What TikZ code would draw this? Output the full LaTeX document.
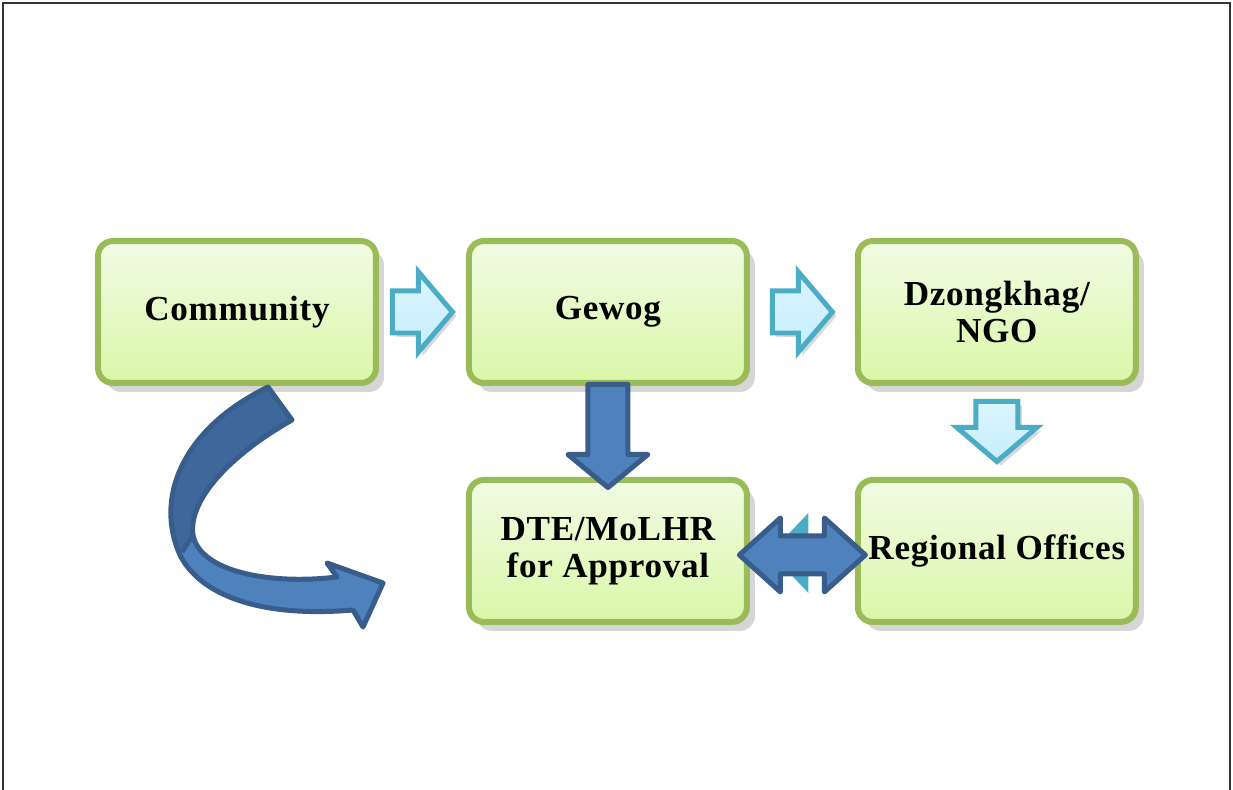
\documentclass[tikz,border=0pt]{standalone}
\usepackage{fontspec}
\setmainfont{Liberation Serif}
\newfontfamily\boxfont[LetterSpace=2]{Liberation Serif}
\usetikzlibrary{positioning, calc, shadows}

\definecolor{boxline}{RGB}{155,187,89}
\definecolor{boxtop}{RGB}{241,251,228}
\definecolor{boxbot}{RGB}{218,247,168}
\definecolor{lightline}{RGB}{75,172,198}
\definecolor{lightfill}{RGB}{196,238,254}
\definecolor{darkline}{RGB}{56,93,138}
\definecolor{darkfill}{RGB}{79,129,189}
\definecolor{darkback}{RGB}{62,104,156}

\tikzset{
  pics/lightarr/.style={code={
    \draw[lightarrow] (-30,-21) -- (-4,-21) -- (-4,-40) -- (30,0) -- (-4,40) -- (-4,21) -- (-30,21) -- cycle;
  }}
}

\begin{document}
\begin{tikzpicture}[
  x=0.02cm, y=-0.02cm,
  stage/.style={draw=boxline, line width=0.12cm, rounded corners=0.3cm, top color=boxtop, bottom color=boxbot,
    minimum width=5.56cm, minimum height=2.84cm, align=center, font=\boxfont\fontsize{20}{21}\selectfont\bfseries,
    drop shadow={shadow xshift=0.16cm, shadow yshift=-0.18cm, fill=black!16, opacity=1}},
  lightarrow/.style={draw=lightline, line width=0.1cm, top color=lightfill!60!white, bottom color=lightfill,
    drop shadow={shadow xshift=0.08cm, shadow yshift=-0.08cm, fill=black!15, opacity=1}},
  darkarrow/.style={draw=darkline, line width=0.1cm, fill=darkfill, line join=round}
]
\useasboundingbox (0,0) rectangle (1233,790);
\draw[line width=0.035cm, black!80] (3,790) -- (3,3) -- (1230,3) -- (1230,790);

% boxes
\node[stage] (comm) at (237,312) {Community};
\node[stage, right=1.74cm of comm] (gewog) {Gewog};
\node[stage, right=2.1cm of gewog] (dzong) {Dzongkhag/\\NGO};
\node[stage, below=1.82cm of gewog] (dte) {DTE/MoLHR\\for Approval};
\node[stage, below=1.82cm of dzong] (reg) {Regional Offices};

% light arrows
\coordinate (c2g) at ($(comm.east)!0.5!(gewog.west)$);
\coordinate (g2z) at ($(gewog.east)!0.5!(dzong.west)$);
\coordinate (z2r) at ($(dzong.south)!0.5!(reg.north)$);
\pic at (c2g) {lightarr};
\pic at (g2z) {lightarr};
\pic[rotate=-90] at (z2r) {lightarr};

% gewog to dte
\coordinate (g2d) at ($(gewog.south)!0.5!(dte.north)$);
\begin{scope}[shift={(g2d)}]
  \draw[darkarrow] (-20,-47) -- (20,-47) -- (20,23) -- (40,23) -- (0,56) -- (-40,23) -- (-20,23) -- cycle;
\end{scope}

% dte and regional offices
\coordinate (d2r) at ($(dte.east)!0.5!(reg.west)$);
\begin{scope}[shift={(d2r)}]
  \fill[lightline] (6,-38) -- (-32,2) -- (6,42) -- cycle;
  \draw[darkarrow] (-63,4) -- (-22,-33) -- (-22,-15) -- (22,-15) -- (22,-33) -- (63,4) -- (22,41) -- (22,23) -- (-22,23) -- (-22,41) -- cycle;
\end{scope}

% curved arrow from community
\fill[darkfill] (268,387) -- (292,420) .. controls (230,455) and (188,500) .. (193,535)
  .. controls (200,572) and (270,585) .. (337,577) -- (327,563) -- (383,583) -- (363,627) -- (353,610)
  .. controls (260,618) and (200,595) .. (180,555) .. controls (155,500) and (180,430) .. (268,387) -- cycle;
\fill[darkback] (268,387) -- (292,420) .. controls (230,455) and (188,500) .. (193,535) -- (182,552)
  .. controls (156,500) and (180,430) .. (268,387) -- cycle;
\draw[darkline, line width=0.1cm, line join=round] (268,387) -- (292,420) .. controls (230,455) and (188,500) .. (193,535)
  .. controls (200,572) and (270,585) .. (337,577) -- (327,563) -- (383,583) -- (363,627) -- (353,610)
  .. controls (260,618) and (200,595) .. (180,555) .. controls (155,500) and (180,430) .. (268,387) -- cycle;
\draw[darkline, line width=0.1cm] (193,535) -- (182,552);
\end{tikzpicture}
\end{document}
